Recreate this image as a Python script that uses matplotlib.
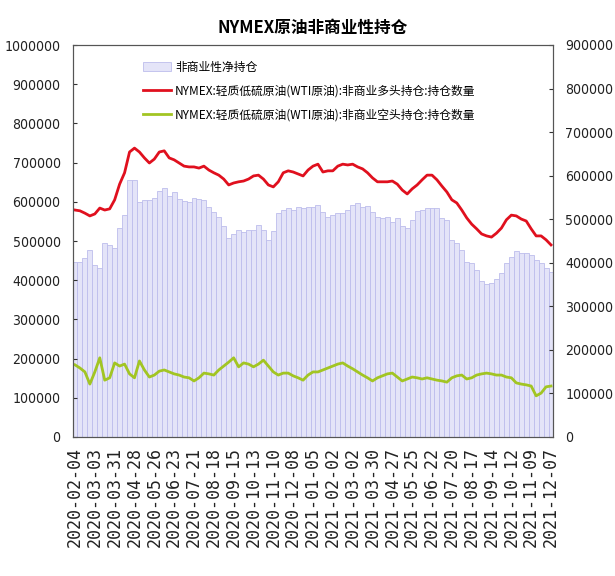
import numpy as np
import pandas as pd
import matplotlib
matplotlib.use('Agg')
import matplotlib.pyplot as plt
from matplotlib import font_manager as fm
from matplotlib.ticker import FormatStrFormatter

# weekly data, 2020-02-04 .. 2021-12-07
start_date = '2020-02-04'
net = [402, 402, 411, 429, 395, 388, 445, 441, 434, 480,
       510, 590, 590, 540, 544, 544, 549, 565, 572, 553,
       563, 546, 542, 540, 549, 546, 544, 528, 517, 505,
       485, 457, 466, 475, 471, 475, 475, 487, 475, 452,
       473, 514, 521, 526, 521, 528, 526, 528, 528, 533,
       517, 505, 510, 514, 514, 521, 533, 537, 528, 530,
       517, 505, 503, 505, 494, 503, 485, 480, 498, 519,
       521, 526, 526, 526, 503, 498, 452, 445, 429, 402,
       400, 383, 358, 351, 354, 363, 377, 400, 413, 427,
       423, 423, 418, 406, 400, 388, 379]
long_pos = [579, 577, 571, 564, 569, 584, 579, 582, 605, 645,
            674, 727, 737, 727, 712, 699, 709, 727, 730, 712,
            707, 699, 691, 689, 689, 686, 691, 681, 674, 668,
            658, 643, 648, 651, 653, 658, 666, 668, 658, 643,
            638, 651, 674, 679, 676, 671, 666, 681, 691, 696,
            676, 679, 679, 691, 696, 694, 696, 689, 684, 674,
            661, 651, 651, 651, 653, 645, 630, 620, 633, 643,
            656, 668, 668, 656, 640, 625, 605, 597, 579, 559,
            543, 531, 518, 513, 510, 520, 533, 554, 566, 564,
            556, 551, 531, 513, 513, 503, 490]
short_pos = [184, 176, 166, 135, 166, 202, 145, 151, 189, 181,
             186, 161, 151, 194, 171, 153, 158, 168, 171, 166,
             161, 158, 153, 151, 143, 151, 163, 161, 158, 171,
             181, 191, 202, 179, 189, 186, 179, 186, 196, 181,
             166, 158, 163, 163, 156, 151, 145, 158, 166, 166,
             171, 176, 181, 186, 189, 181, 174, 166, 158, 151,
             143, 151, 156, 161, 163, 153, 143, 148, 153, 151,
             148, 151, 148, 145, 143, 140, 151, 156, 158, 148,
             151, 158, 161, 163, 161, 158, 158, 153, 151, 138,
             135, 133, 130, 105, 112, 128, 130]

net = np.array(net) * 1000
long_pos = np.array(long_pos) * 1000
short_pos = np.array(short_pos) * 1000

title = 'NYMEX原油非商业性持仓'
label_net = '非商业性净持仓'
label_long = 'NYMEX:轻质低硫原油(WTI原油):非商业多头持仓:持仓数量'
label_short = 'NYMEX:轻质低硫原油(WTI原油):非商业空头持仓:持仓数量'

dates = pd.date_range(start_date, periods=len(net), freq='7D')
x = np.arange(len(net))

# look for a narrow font for the numbers
num_prop = fm.FontProperties(family='DejaVu Sans', size=9)
files = [f.fname for f in fm.fontManager.ttflist]
for key, size in [('LiberationSansNarrow-Regular', 12),
                  ('NotoSans-Condensed.', 11.5),
                  ('NotoSans-CondensedRegular', 11.5),
                  ('DejaVuSansCondensed.', 11),
                  ('RobotoCondensed-Regular', 11.5)]:
    hit = [p for p in files if key in p]
    if hit:
        num_prop = fm.FontProperties(fname=hit[0], size=size * 0.92)
        break
cjk = ['Noto Sans CJK SC', 'DejaVu Sans']

fig = plt.figure(figsize=(6.15, 5.76), dpi=100)
ax = fig.add_axes([73 / 615, 1 - 437 / 576, 480 / 615, 392 / 576])

# bars on the right-hand scale
bars = ax.bar(x, net, width=1.0, color='#e4e4f8', edgecolor='#bdbdec',
              linewidth=0.6, label=label_net, zorder=1)
ax.set_ylim(0, 900000)
ax.set_xlim(-0.4, len(net) - 1 + 0.4)
ax.set_yticks(np.arange(0, 900001, 100000))
ax.yaxis.set_major_formatter(FormatStrFormatter('%d'))

# lines on the left-hand scale
ax2 = ax.twinx()
l1, = ax2.plot(x, long_pos, color='#e0101e', lw=2.0, label=label_long)
l2, = ax2.plot(x, short_pos, color='#a2c523', lw=2.0, label=label_short)
ax2.set_ylim(0, 1000000)
ax2.set_yticks(np.arange(0, 1000001, 100000))
ax2.yaxis.set_major_formatter(FormatStrFormatter('%d'))

ax.yaxis.tick_right()
ax.yaxis.set_label_position('right')
ax2.yaxis.tick_left()
ax2.yaxis.set_label_position('left')

ax.tick_params(axis='y', pad=9)
ax2.tick_params(axis='y', pad=9)
for a in (ax, ax2):
    a.tick_params(axis='y', direction='in', length=3, width=0.8, color='#333333',
                  labelcolor='#222222')
    for lab in a.get_yticklabels():
        lab.set_fontproperties(num_prop)
    for s in a.spines.values():
        s.set_color('#555555')
        s.set_linewidth(0.8)

ticks = x[::4]
ax.set_xticks(ticks)
ax.set_xticklabels([d.strftime('%Y-%m-%d') for d in dates[::4]], rotation=90,
                   family='DejaVu Sans Mono', fontsize=12, color='#222222')
ax.tick_params(axis='x', length=0, pad=7)

ax.set_title(title, fontsize=12, fontweight='bold', family=cjk, pad=9)

ax2.legend([bars, l1, l2], [label_net, label_long, label_short],
           loc='upper left', bbox_to_anchor=(0.146, 0.96), frameon=False,
           prop={'family': cjk, 'size': 8.5}, borderpad=0, borderaxespad=0,
           handlelength=2.4, handletextpad=0.3, labelspacing=0.92)

fig.savefig('out.png', dpi=100)
